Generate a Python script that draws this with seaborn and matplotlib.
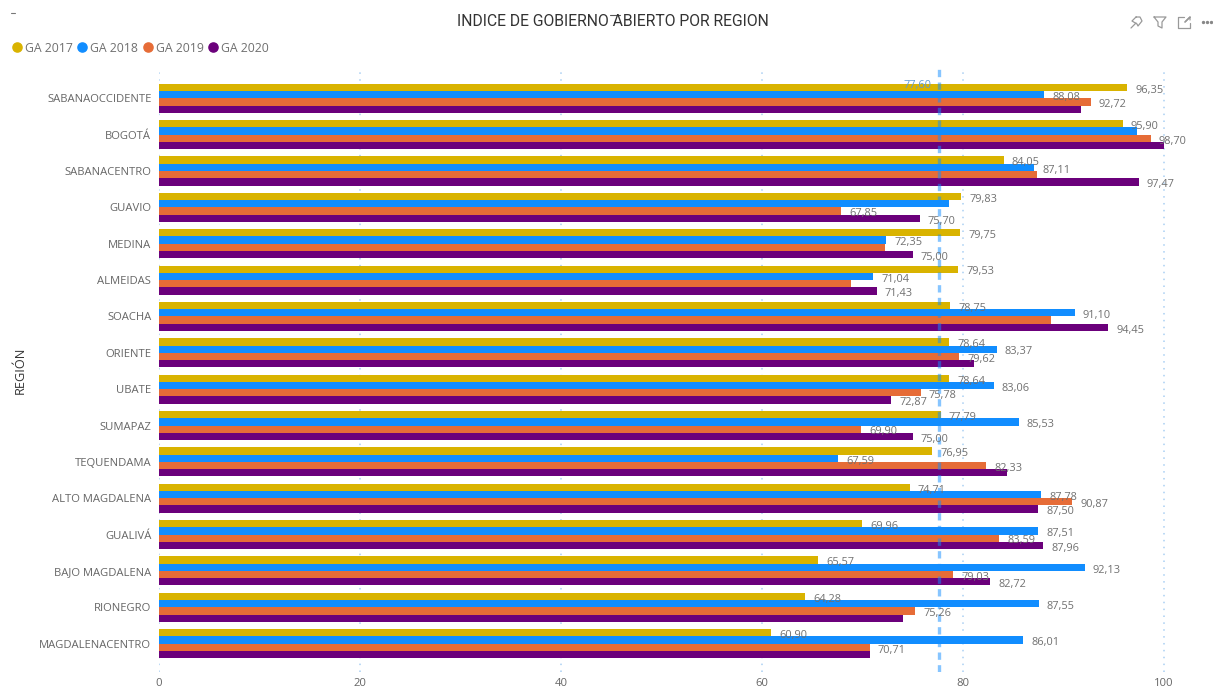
#!/usr/bin/env python3
"""Indice de gobierno abierto por region, grouped horizontal bars."""

import pandas as pd
import matplotlib
matplotlib.use("Agg")
import matplotlib.pyplot as plt
from matplotlib.lines import Line2D
import seaborn as sns

regions = ["SABANAOCCIDENTE", "BOGOTÁ", "SABANACENTRO", "GUAVIO", "MEDINA", "ALMEIDAS",
           "SOACHA", "ORIENTE", "UBATE", "SUMAPAZ", "TEQUENDAMA", "ALTO MAGDALENA",
           "GUALIVÁ", "BAJO MAGDALENA", "RIONEGRO", "MAGDALENACENTRO"]
ga_2017 = [96.35, 95.90, 84.05, 79.83, 79.75, 79.53, 78.75, 78.64,
           78.64, 77.79, 76.95, 74.71, 69.96, 65.57, 64.28, 60.90]
ga_2018 = [88.08, 97.30, 87.11, 78.60, 72.35, 71.04, 91.10, 83.37,
           83.06, 85.53, 67.59, 87.78, 87.51, 92.13, 87.55, 86.01]
ga_2019 = [92.72, 98.70, 87.40, 67.85, 72.25, 68.90, 88.80, 79.62,
           75.78, 69.90, 82.33, 90.87, 83.59, 79.03, 75.26, 70.71]
ga_2020 = [91.70, 100.00, 97.47, 75.70, 75.00, 71.43, 94.45, 81.10,
           72.87, 75.00, 84.40, 87.50, 87.96, 82.72, 74.00, 70.70]
series_names = ["GA 2017", "GA 2018", "GA 2019", "GA 2020"]
series_colors = ["#D9B300", "#118DFF", "#E66C37", "#6B007B"]
average_line = 77.60

# bars the original leaves without a data label
no_label = [("SABANAOCCIDENTE", "GA 2020"), ("BOGOTÁ", "GA 2018"), ("BOGOTÁ", "GA 2020"),
            ("SABANACENTRO", "GA 2019"), ("GUAVIO", "GA 2018"), ("MEDINA", "GA 2019"),
            ("ALMEIDAS", "GA 2019"), ("SOACHA", "GA 2019"), ("ORIENTE", "GA 2020"),
            ("TEQUENDAMA", "GA 2020"), ("RIONEGRO", "GA 2020"), ("MAGDALENACENTRO", "GA 2020")]

W, H = 1213, 688
GREY = "#707070"

df = pd.DataFrame({"region": regions, "GA 2017": ga_2017, "GA 2018": ga_2018,
                   "GA 2019": ga_2019, "GA 2020": ga_2020})
long_df = df.melt(id_vars="region", var_name="serie", value_name="valor")

sns.set_theme(style="white")
plt.rcParams["font.family"] = ["Open Sans", "DejaVu Sans"]

fig = plt.figure(figsize=(W / 100, H / 100), dpi=100)
ax = fig.add_axes([159 / W, 1 - 672 / H, (1172 - 159) / W, (672 - 69) / H])

sns.barplot(data=long_df, y="region", x="valor", hue="serie", order=regions,
            hue_order=series_names, palette=series_colors, width=0.8, gap=0,
            saturation=1, legend=False, ax=ax, zorder=2, linewidth=0)

ax.set_xlim(0, 1013 / 10.05)
ax.set_ylim(15.78, -0.806)
ax.set_xticks([0, 20, 40, 60, 80, 100])
ax.set_xlabel("")
ax.set_ylabel("REGIÓN", fontsize=9.2, color="#333333", labelpad=0)
ax.yaxis.set_label_coords(-132 / 1013, 0.5)
ax.tick_params(axis="x", length=0, labelsize=8.1, labelcolor="#666666", pad=4)
ax.tick_params(axis="y", length=0, labelsize=8.1, labelcolor="#666666", pad=5.5)
sns.despine(ax=ax, left=True, bottom=True)
ax.xaxis.grid(True, color="#A9CFF3", linestyle=(0, (1, 3.5)), linewidth=1.1, zorder=1)
ax.yaxis.grid(False)
ax.set_axisbelow(True)

# data labels, comma decimals like the report
for name, container in zip(series_names, ax.containers):
    for region, value, bar in zip(regions, df[name], container):
        if (region, name) in no_label:
            continue
        ax.annotate(f"{value:.2f}".replace(".", ","),
                    (value, bar.get_y() + bar.get_height() / 2),
                    xytext=(5.8, -2), textcoords="offset points", ha="left", va="center",
                    fontsize=7.9, color=GREY, zorder=5)

ax.axvline(average_line, color="#118DFF", alpha=0.5, linewidth=2.4,
           linestyle=(0, (2.2, 1.6)), zorder=4)
ax.annotate(f"{average_line:.2f}".replace(".", ","), (average_line, 0),
            xycoords=("data", "data"), xytext=(-5, 9.5), textcoords="offset points",
            ha="right", va="center", fontsize=7.9, color="#5E9BD6", zorder=5)

fig.text(613 / W, 1 - 21.5 / H, "INDICE DE GOBIERNO ABIERTO POR REGION", ha="center",
         va="center", fontsize=11.3, color="#333333", family=["Roboto", "DejaVu Sans"])

handles = [Line2D([], [], linestyle="", marker="o", markersize=6.6, color=c) for c in series_colors]
fig.legend(handles, series_names, ncol=4, loc="center left", bbox_to_anchor=(11 / W, 1 - 48 / H),
           frameon=False, fontsize=8.8, labelcolor=GREY, handlelength=1, handletextpad=0.155,
           columnspacing=0.27, borderpad=0, borderaxespad=0)

# report chrome: small dashes and the header icons, in pixel coordinates
chrome = fig.add_axes([0, 0, 1, 1], facecolor="none")
chrome.set_xlim(0, W)
chrome.set_ylim(H, 0)
chrome.axis("off")
icon = {"color": "#999999", "linewidth": 0.9}
chrome.plot([11, 15], [13, 13], color="#777777", linewidth=0.8)
chrome.plot([610, 620], [15, 15], color="#555555", linewidth=0.8)
chrome.plot([1136, 1131], [23, 28], **icon)
chrome.plot([1136, 1140, 1142, 1138, 1137, 1132, 1136], [17, 17, 21, 26, 24, 21, 17], **icon)
chrome.plot([1154, 1166, 1162, 1162, 1158, 1158, 1154], [17, 17, 22, 28, 26, 22, 17], **icon)
chrome.plot([1184, 1178, 1178, 1190, 1190], [17, 17, 28, 28, 23], **icon)
chrome.plot([1190, 1185, 1190, 1190], [17, 22, 17, 20], **icon)
chrome.plot([1203, 1207, 1211], [22, 22, 22], linestyle="", marker="o", markersize=1.4, color="#888888")

fig.savefig("out.png", dpi=100)
